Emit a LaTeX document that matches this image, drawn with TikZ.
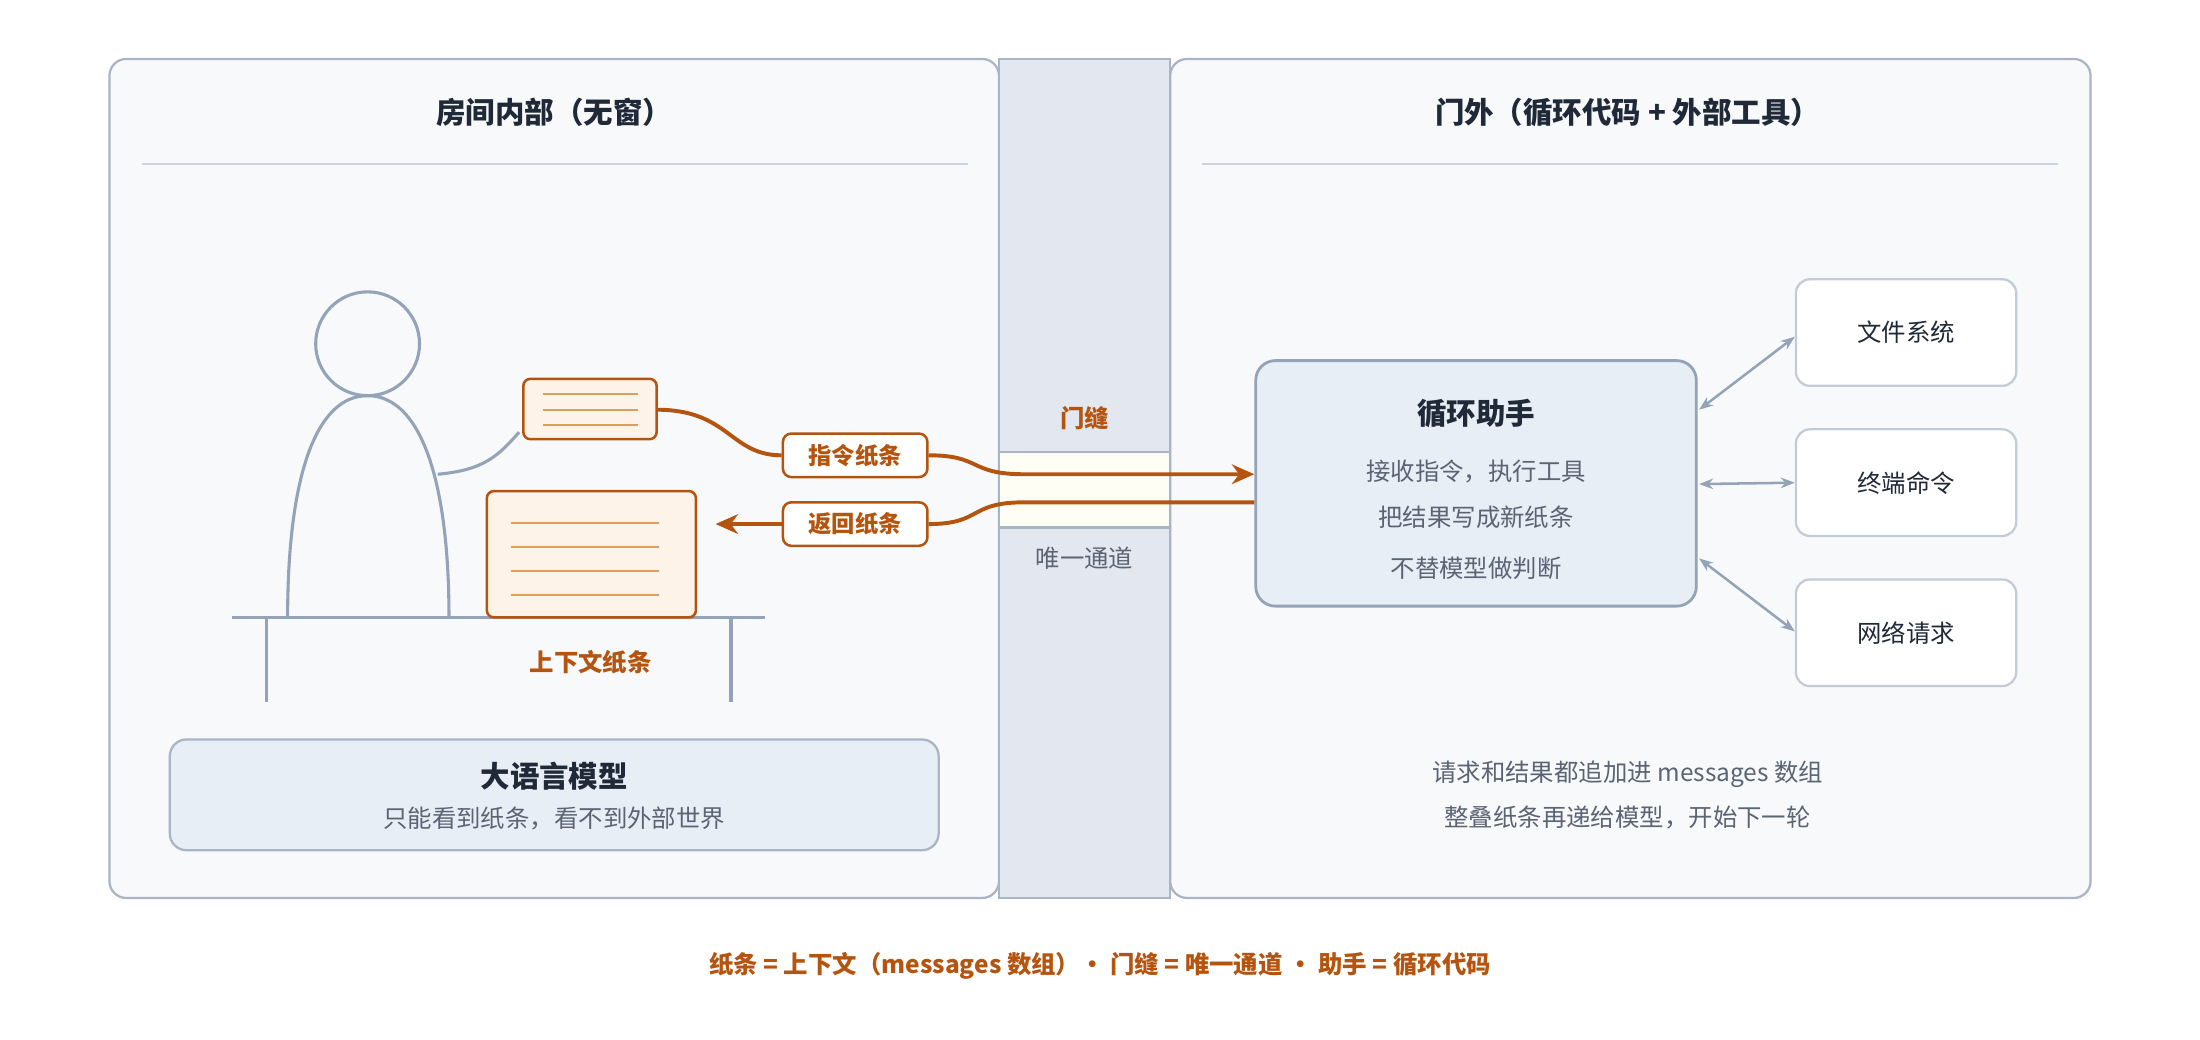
\documentclass[tikz,border=0pt]{standalone}
\usepackage{fontspec}
\setmainfont{Noto Sans CJK SC}
\usetikzlibrary{arrows.meta}
\definecolor{bd}{HTML}{A9B4C4}
\definecolor{panel}{HTML}{F7F9FB}
\definecolor{door}{HTML}{E3E8F0}
\definecolor{org}{HTML}{B5540E}
\definecolor{paper}{HTML}{FDF3E8}
\definecolor{pline}{HTML}{D9A05B}
\definecolor{soft}{HTML}{E8EEF6}
\definecolor{txt}{HTML}{1F2937}
\definecolor{gtxt}{HTML}{5B6473}
\definecolor{fig}{HTML}{94A3B8}
\tikzset{
 panelbox/.style={draw=bd,fill=panel,line width=0.8pt,rounded corners=6pt},
 title/.style={font=\bfseries\fontsize{10.5}{12}\selectfont,text=txt},
 body/.style={font=\fontsize{8.7}{10}\selectfont,text=gtxt},
 paperbox/.style={draw=org,fill=paper,line width=0.9pt,rounded corners=2.5pt},
 pill/.style={draw=org,fill=white,line width=0.9pt,rounded corners=3pt,minimum width=51.5pt,minimum height=15.5pt,inner sep=0,font=\bfseries\fontsize{8.3}{9}\selectfont,text=org},
 tool/.style={draw=bd!70,fill=white,line width=0.8pt,rounded corners=5pt,minimum width=78.5pt,minimum height=38pt,font=\fontsize{8.7}{10}\selectfont,text=txt},
 oarrow/.style={draw=org,line width=1.4pt},
 garrow/.style={draw=fig,line width=0.9pt,{Stealth[length=5pt]}-{Stealth[length=5pt]}},
}
\begin{document}
\begin{tikzpicture}[x=0.5pt,y=-0.5pt]
\useasboundingbox (0,0) rectangle (1568,741);
% panels
\draw[panelbox] (78,42) rectangle (712,640);
\draw[panelbox] (834,42) rectangle (1490,640);
\draw[draw=bd,fill=door,line width=0.8pt] (712,42) rectangle (834,640);
\draw[draw=bd,fill=white!96!yellow,line width=0.8pt] (712,322) rectangle (834,376);
\node[title] (t1) at (395,80) {房间内部（无窗）};
\node[title] (t2) at (1160,80) {门外（循环代码 + 外部工具）};
\draw[draw=bd!60,line width=0.6pt] (101,117) -- (690,117);
\draw[draw=bd!60,line width=0.6pt] (857,117) -- (1467,117);
\node[font=\bfseries\fontsize{8.7}{10}\selectfont,text=org] (gap) at (773,298) {门缝};
\node[body] (only) at (773,398) {唯一通道};
% person
\draw[fig,line width=1.1pt] (262,245) circle (37);
\draw[fig,line width=1.1pt] (205,440) .. controls (205,340) and (225,282) .. (262,282) .. controls (299,282) and (320,340) .. (320,440);
\draw[fig,line width=1.1pt] (312,338) .. controls (345,335) and (355,325) .. (370,308);
% desk
\draw[fig,line width=1.3pt] (165,440) -- (545,440);
\draw[fig,line width=1.3pt] (190,440) -- (190,500);
\draw[fig,line width=1.3pt] (521,440) -- (521,500);
% notes
\draw[paperbox] (373,270) rectangle (468,313);
\foreach \y in {281,292,303} \draw[pline,line width=0.7pt] (387,\y) -- (455,\y);
\node[coordinate] (sn) at (468,292) {};
\draw[paperbox] (347,350) rectangle (496,440);
\foreach \y in {373,390,407,424} \draw[pline,line width=0.7pt] (364,\y) -- (470,\y);
\node[font=\bfseries\fontsize{8.7}{10}\selectfont,text=org] (ctx) at (421,472) {上下文纸条};
% pills
\node[pill] (p1) at (609.5,324.5) {指令纸条};
\node[pill] (p2) at (609.5,373.5) {返回纸条};
% loop box
\node[draw=fig,fill=soft,line width=1pt,rounded corners=7pt,minimum width=157pt,minimum height=87.5pt] (loop) at (1052,344.5) {};
\node[title] at (1052,295) {循环助手};
\node[body] at (1052,336) {接收指令，执行工具};
\node[body] at (1052,369) {把结果写成新纸条};
\node[body] at (1052,405) {不替模型做判断};
% connectors
\draw[oarrow] (sn) .. controls (520,292) and (520,324.5) .. (p1.west);
\draw[oarrow,-{Stealth[length=8pt,width=7pt]}] (p1.east) .. controls (700,324.5) and (690,338) .. (730,338) -- (loop.west |- 0,338);
\draw[oarrow] (loop.west |- 0,358) -- (730,358) .. controls (690,358) and (700,373.5) .. (p2.east);
\coordinate (ret) at (510,373.5);
\draw[oarrow,-{Stealth[length=8pt,width=7pt]}] (p2.west) -- (ret);
% tools
\node[tool] (fs) at (1358.5,237) {文件系统};
\node[tool] (term) at (1358.5,344) {终端命令};
\node[tool] (net) at (1358.5,451) {网络请求};
\draw[garrow] (1211,292) -- (fs.west |- 0,240) ;
\draw[garrow] (1211,345) -- (term.west);
\draw[garrow] (1211,398) -- (net.west |- 0,450);
% LLM
\node[draw=bd,fill=soft,line width=0.8pt,rounded corners=6pt,minimum width=274pt,minimum height=39.5pt] (llm) at (395,566.5) {};
\node[title] at (395,553) {大语言模型};
\node[body] at (395,583) {只能看到纸条，看不到外部世界};
\node[body] (r1) at (1160,552) {请求和结果都追加进 messages 数组};
\node[body] (r2) at (1160,583) {整叠纸条再递给模型，开始下一轮};
\node[font=\bfseries\fontsize{8.7}{10}\selectfont,text=org] (foot) at (784,688) {纸条 = 上下文（messages 数组）· 门缝 = 唯一通道 · 助手 = 循环代码};
\end{tikzpicture}
\end{document}
